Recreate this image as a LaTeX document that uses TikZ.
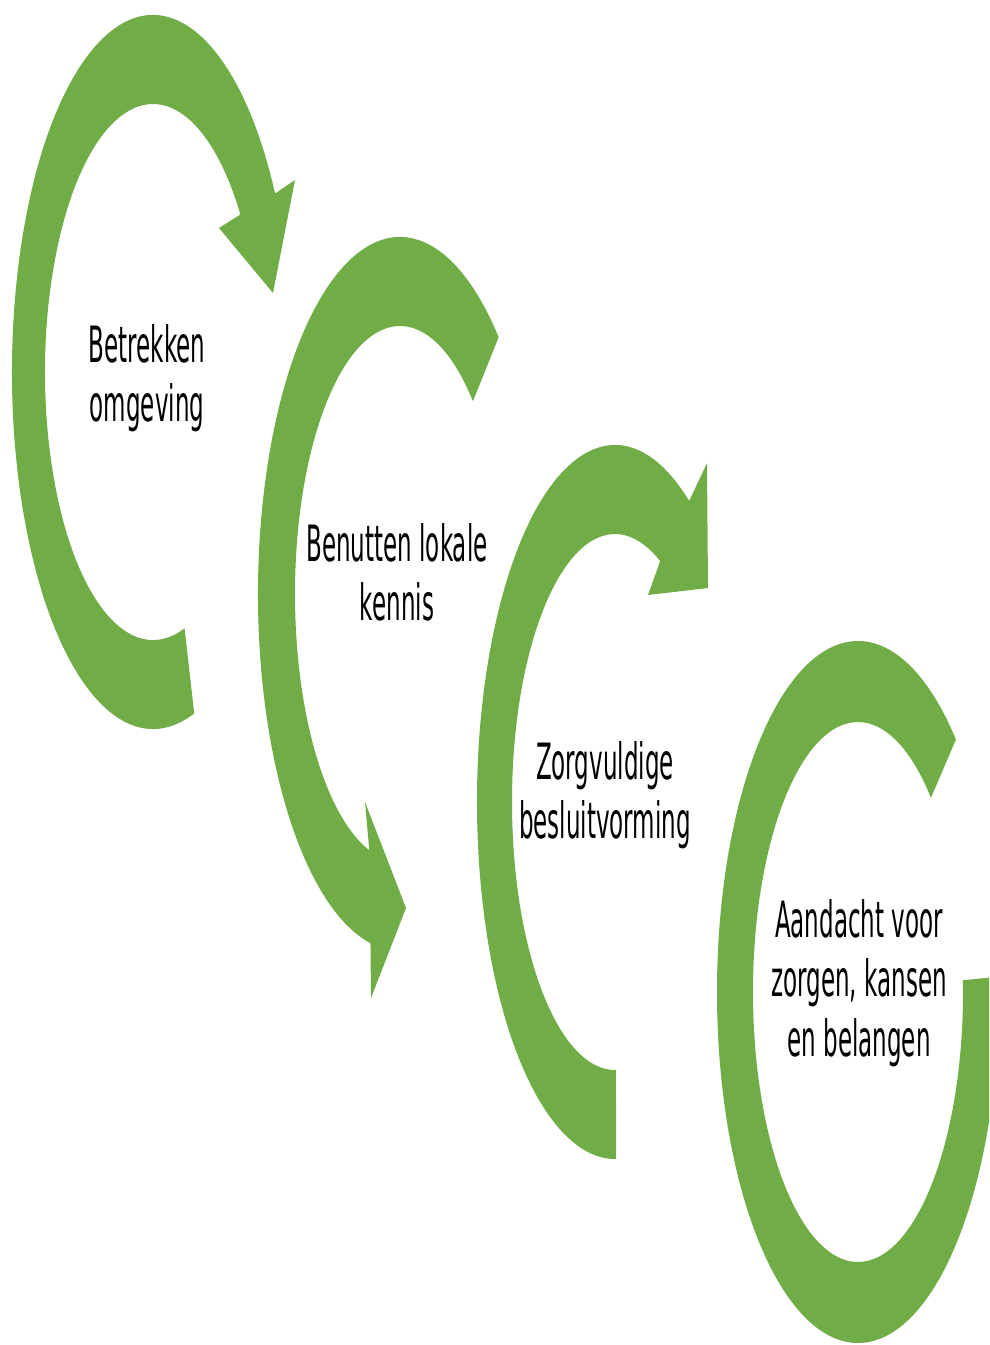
\documentclass[tikz,border=0pt]{standalone}
\usepackage{fontspec}
\setmainfont{DejaVu Sans}
\usetikzlibrary{calc}
\definecolor{arrowgreen}{HTML}{70AD47}
\tikzset{
  ringarrow/.style={fill=arrowgreen, draw=none},
  label/.style={anchor=base, inner sep=0pt, text=black}
}
\newcommand{\lbl}[1]{\scalebox{0.46}[1]{\fontsize{50}{59.5}\selectfont\begin{tabular}[t]{@{}c@{}}#1\end{tabular}}}
\begin{document}
\begin{tikzpicture}[x=1pt,y=1pt]
\useasboundingbox (0,0) rectangle (989,-1345);
\clip (0,0) rectangle (989,-1345);
% arrow 1
\coordinate (c1) at (153,-372);
\fill[ringarrow] ($(c1)+(30:141pt and 357pt)$)
  arc[start angle=30, end angle=287, x radius=141pt, y radius=357pt]
  -- ($(c1)+(287:108pt and 268pt)$)
  arc[start angle=287, end angle=36, x radius=108pt, y radius=268pt]
  -- (219,-228) -- (273,-293) -- (295,-180) -- cycle;
% arrow 2
\coordinate (c2) at (400,-594);
\fill[ringarrow] ($(c2)+(258:142pt and 357pt)$)
  arc[start angle=258, end angle=46, x radius=142pt, y radius=357pt]
  -- ($(c2)+(46:105pt and 268pt)$)
  arc[start angle=46, end angle=253, x radius=105pt, y radius=268pt]
  -- (365,-802) -- (406,-908) -- (371,-998) -- cycle;
% arrow 3
\coordinate (c3) at (615,-802);
\fill[ringarrow] ($(c3)+(57.5:138pt and 357pt)$)
  arc[start angle=57.5, end angle=270.5, x radius=138pt, y radius=357pt]
  -- ($(c3)+(270.5:103pt and 268pt)$)
  arc[start angle=270.5, end angle=64, x radius=103pt, y radius=268pt]
  -- (648,-595) -- (708,-588) -- (707,-463) -- cycle;
% arrow 4
\coordinate (c4) at (858,-992);
\fill[ringarrow] ($(c4)+(46:141pt and 351pt)$)
  arc[start angle=46, end angle=362.5, x radius=141pt, y radius=351pt]
  -- ($(c4)+(362.5:105pt and 270pt)$)
  arc[start angle=362.5, end angle=46, x radius=105pt, y radius=270pt]
  -- cycle;
% labels
\node[label] (t1) at (147,-362) {\lbl{Betrekken\\omgeving}};
\node[label] (t2) at (397,-561) {\lbl{Benutten lokale\\kennis}};
\node[label] (t3) at (605,-779) {\lbl{Zorgvuldige\\besluitvorming}};
\node[label] (t4) at (859,-937) {\lbl{Aandacht voor\\zorgen, kansen\\en belangen}};
\end{tikzpicture}
\end{document}
